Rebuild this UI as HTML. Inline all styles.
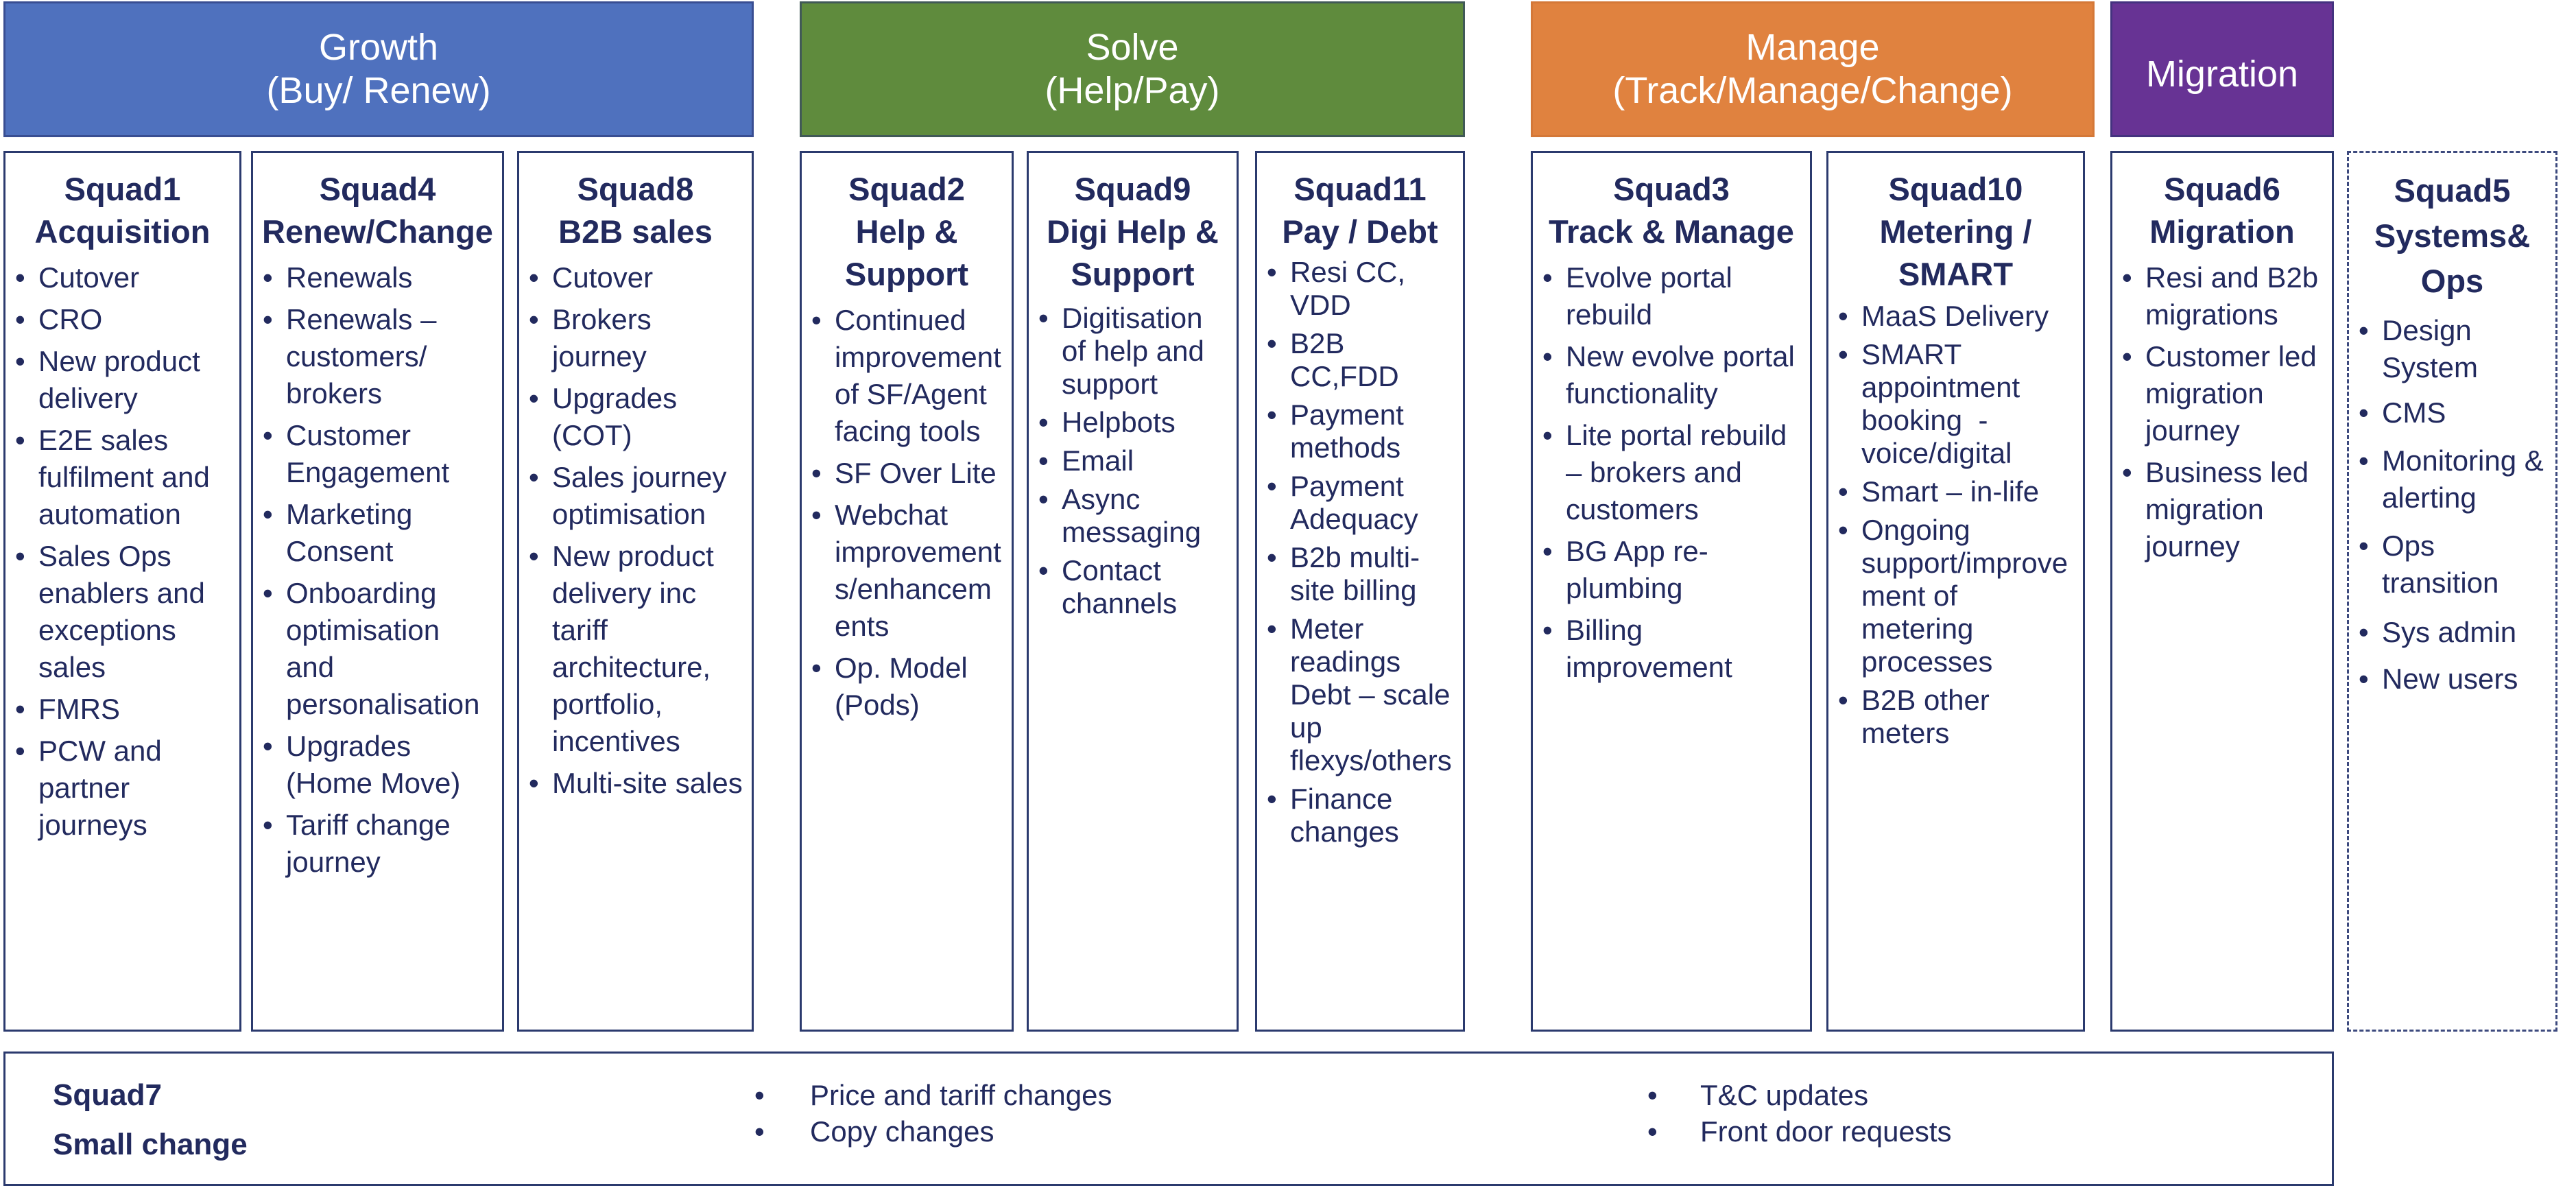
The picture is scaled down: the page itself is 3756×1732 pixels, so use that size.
<!DOCTYPE html>
<html><head><meta charset="utf-8"><style>
html,body{margin:0;padding:0;background:#fff;}
body{width:3756px;height:1732px;position:relative;overflow:hidden;font-family:"Liberation Sans",Arial,sans-serif;color:#222a5e;}
.hd{position:absolute;top:2px;height:198px;color:#fff;font-size:54px;line-height:63px;text-align:center;display:flex;align-items:center;justify-content:center;box-sizing:border-box;border:3px solid rgba(40,50,110,0.55);}
.box{position:absolute;top:220px;height:1284px;box-sizing:border-box;border:3px solid #2b3a6e;padding-top:22px;background:#fff;}
.box.dash{border:3px dashed #3d4a7e;}
.t{font-weight:bold;font-size:47px;line-height:62px;text-align:center;white-space:nowrap;}
ul{list-style:none;margin:9px 0 0 0;padding:0;}
li{position:relative;padding-left:48px;font-size:42px;line-height:54px;white-space:nowrap;margin-top:7px;}
li:first-child{margin-top:0;}
li:before{content:"•";position:absolute;left:14px;top:0;}
ul.tight li{line-height:48px;margin-top:8px;}
ul.tight li:first-child{margin-top:0;}
.bot{position:absolute;left:5px;top:1533px;width:3398px;height:196px;box-sizing:border-box;border:3px solid #2b3a6e;}
.ab{position:absolute;font-size:42px;line-height:50px;white-space:nowrap;}
</style></head><body>

<div class="hd" style="left:5px;width:1094px;background:#4f71be;">Growth<br>(Buy/ Renew)</div>
<div class="hd" style="left:1166px;width:970px;background:#5f8b3d;">Solve<br>(Help/Pay)</div>
<div class="hd" style="left:2232px;width:822px;background:#e0823f;border-color:rgba(200,110,50,0.5);">Manage<br>(Track/Manage/Change)</div>
<div class="hd" style="left:3077px;width:326px;background:#673394;align-items:flex-start;padding-top:72px;">Migration</div>

<div class="box" style="left:5px;width:347px;">
<div class="t">Squad1<br>Acquisition</div>
<ul><li>Cutover</li><li>CRO</li><li>New product<br>delivery</li><li>E2E sales<br>fulfilment and<br>automation</li><li>Sales Ops<br>enablers and<br>exceptions<br>sales</li><li>FMRS</li><li>PCW and<br>partner<br>journeys</li></ul>
</div>

<div class="box" style="left:366px;width:369px;">
<div class="t">Squad4<br>Renew/Change</div>
<ul><li>Renewals</li><li>Renewals –<br>customers/<br>brokers</li><li>Customer<br>Engagement</li><li>Marketing<br>Consent</li><li>Onboarding<br>optimisation<br>and<br>personalisation</li><li>Upgrades<br>(Home Move)</li><li>Tariff change<br>journey</li></ul>
</div>

<div class="box" style="left:754px;width:345px;">
<div class="t">Squad8<br>B2B sales</div>
<ul><li>Cutover</li><li>Brokers<br>journey</li><li>Upgrades<br>(COT)</li><li>Sales journey<br>optimisation</li><li>New product<br>delivery inc<br>tariff<br>architecture,<br>portfolio,<br>incentives</li><li>Multi-site sales</li></ul>
</div>

<div class="box" style="left:1166px;width:312px;">
<div class="t">Squad2<br>Help &amp;<br>Support</div>
<ul><li>Continued<br>improvement<br>of SF/Agent<br>facing tools</li><li>SF Over Lite</li><li>Webchat<br>improvement<br>s/enhancem<br>ents</li><li>Op. Model<br>(Pods)</li></ul>
</div>

<div class="box" style="left:1497px;width:309px;">
<div class="t">Squad9<br>Digi Help &amp;<br>Support</div>
<ul class="tight"><li>Digitisation<br>of help and<br>support</li><li>Helpbots</li><li>Email</li><li>Async<br>messaging</li><li>Contact<br>channels</li></ul>
</div>

<div class="box" style="left:1830px;width:306px;">
<div class="t">Squad11<br>Pay / Debt</div>
<ul class="tight" style="margin-top:4px;"><li>Resi CC,<br>VDD</li><li>B2B<br>CC,FDD</li><li>Payment<br>methods</li><li>Payment<br>Adequacy</li><li>B2b multi-<br>site billing</li><li>Meter<br>readings<br>Debt – scale<br>up<br>flexys/others</li><li>Finance<br>changes</li></ul>
</div>

<div class="box" style="left:2232px;width:410px;">
<div class="t">Squad3<br>Track &amp; Manage</div>
<ul><li>Evolve portal<br>rebuild</li><li>New evolve portal<br>functionality</li><li>Lite portal rebuild<br>– brokers and<br>customers</li><li>BG App re-<br>plumbing</li><li>Billing<br>improvement</li></ul>
</div>

<div class="box" style="left:2663px;width:377px;">
<div class="t">Squad10<br>Metering /<br>SMART</div>
<ul class="tight" style="margin-top:6px;"><li>MaaS Delivery</li><li>SMART<br>appointment<br>booking&nbsp; -<br>voice/digital</li><li>Smart – in-life</li><li>Ongoing<br>support/improve<br>ment of<br>metering<br>processes</li><li>B2B other<br>meters</li></ul>
</div>

<div class="box" style="left:3077px;width:326px;">
<div class="t">Squad6<br>Migration</div>
<ul><li>Resi and B2b<br>migrations</li><li>Customer led<br>migration<br>journey</li><li>Business led<br>migration<br>journey</li></ul>
</div>

<div class="box dash" style="left:3422px;width:307px;">
<div class="t" style="line-height:66px;">Squad5<br>Systems&amp;<br>Ops</div>
<ul style="margin-top:12px;"><li>Design<br>System</li><li style="margin-top:12px;">CMS</li><li style="margin-top:16px;">Monitoring &amp;<br>alerting</li><li style="margin-top:16px;">Ops<br>transition</li><li style="margin-top:18px;">Sys admin</li><li style="margin-top:14px;">New users</li></ul>
</div>

<div class="bot"></div>
<div class="ab" style="left:77px;top:1572px;font-weight:bold;font-size:44px;">Squad7</div>
<div class="ab" style="left:77px;top:1644px;font-weight:bold;font-size:44px;">Small change</div>
<div class="ab" style="left:1100px;top:1572px;">•</div>
<div class="ab" style="left:1181px;top:1572px;">Price and tariff changes</div>
<div class="ab" style="left:1100px;top:1625px;">•</div>
<div class="ab" style="left:1181px;top:1625px;">Copy changes</div>
<div class="ab" style="left:2402px;top:1572px;">•</div>
<div class="ab" style="left:2479px;top:1572px;">T&amp;C updates</div>
<div class="ab" style="left:2402px;top:1625px;">•</div>
<div class="ab" style="left:2479px;top:1625px;">Front door requests</div>

</body></html>
